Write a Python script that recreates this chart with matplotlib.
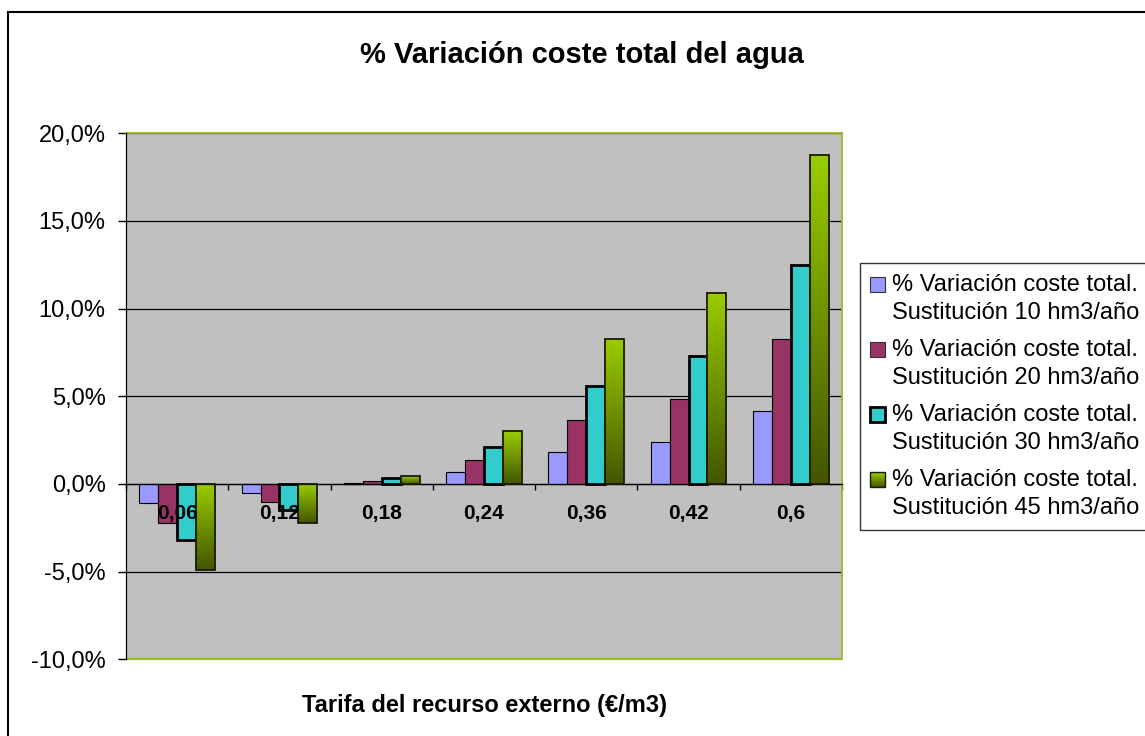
import numpy as np
import matplotlib
matplotlib.use("Agg")
import matplotlib.pyplot as plt
import matplotlib.patches as mpatches
from matplotlib.colors import LinearSegmentedColormap
from matplotlib.legend_handler import HandlerBase

plt.rcParams['font.family'] = ['Liberation Sans', 'DejaVu Sans']

# ---- data ----
categories = ["0,06", "0,12", "0,18", "0,24", "0,36", "0,42", "0,6"]
s10 = [-1.1, -0.5, 0.05, 0.67, 1.8, 2.42, 4.15]
s20 = [-2.2, -1.0, 0.18, 1.35, 3.66, 4.86, 8.26]
s30 = [-3.2, -1.5, 0.33, 2.1, 5.56, 7.31, 12.5]
s45 = [-4.9, -2.2, 0.45, 3.0, 8.24, 10.87, 18.76]
series_labels = [
    "% Variación coste total.\nSustitución 10 hm3/año",
    "% Variación coste total.\nSustitución 20 hm3/año",
    "% Variación coste total.\nSustitución 30 hm3/año",
    "% Variación coste total.\nSustitución 45 hm3/año",
]
yticks = [-10, -5, 0, 5, 10, 15, 20]
title = "% Variación coste total del agua"
xlabel = "Tarifa del recurso externo (€/m3)"

# ---- styles ----
face = ['#9999FF', '#993366', '#33CCCC', None]
edge_lw = [0.8, 0.8, 2.0, 1.3]
green_cmap = LinearSegmentedColormap.from_list('g', ['#435500', '#99CC00'])
olive = '#99BB22'

W, H = 1145, 736
fig = plt.figure(figsize=(W / 100, H / 100), dpi=100)
fig.patch.set_facecolor('white')
ax = fig.add_axes([126 / W, 1 - 659.3 / H, (842 - 126) / W, (659.3 - 133.3) / H])
ax.set_facecolor('#C0C0C0')

x = np.arange(len(categories))
bw = 0.185
data = [s10, s20, s30, s45]
containers = []
for i, vals in enumerate(data):
    off = (i - 1.5) * bw
    if face[i] is not None:
        bc = ax.bar(x + off, vals, bw, color=face[i], edgecolor='black',
                    linewidth=edge_lw[i], zorder=2)
    else:
        bc = ax.bar(x + off, vals, bw, facecolor='none', edgecolor='#1a1a00',
                    linewidth=edge_lw[i], zorder=3)
        grad = np.linspace(1, 0, 256).reshape(-1, 1)
        for p in bc.patches:
            x0, w = p.get_x(), p.get_width()
            y0, h = p.get_y(), p.get_height()
            top, bot = max(y0, y0 + h), min(y0, y0 + h)
            im = ax.imshow(grad, cmap=green_cmap, aspect='auto', origin='upper',
                           extent=[x0, x0 + w, bot, top], zorder=2.5,
                           interpolation='bilinear')
            im.set_clip_path(p)
    containers.append(bc)

ax.set_xlim(-0.5, len(categories) - 0.5)
ax.set_ylim(yticks[0], yticks[-1])
ax.set_axisbelow(True)

# y axis
ax.set_yticks(yticks)
ax.set_yticklabels([(f"{v:.1f}%").replace('.', ',') for v in yticks], fontsize=17)
ax.tick_params(axis='y', direction='out', length=5.7, width=1, pad=9, color='black')
ax.yaxis.grid(True, color='black', linewidth=0.9)

# x axis at zero
ax.spines['bottom'].set_position(('data', 0))
ax.spines['bottom'].set_color('black')
ax.spines['bottom'].set_linewidth(0.9)
ax.set_xticks(np.arange(-0.5, len(categories), 1.0))
ax.set_xticklabels([])
ax.tick_params(axis='x', direction='out', length=4.5, width=1, color='black')
for i, c in enumerate(categories):
    ax.annotate(c, xy=(x[i], 0), xytext=(0, -30), textcoords='offset pixels',
                ha='center', va='center', fontsize=15, fontweight='bold', zorder=6)

for s in ['top', 'right']:
    ax.spines[s].set_color(olive)
    ax.spines[s].set_linewidth(1.3)
ax.spines['left'].set_color('black')
ax.spines['left'].set_linewidth(0.9)
ax.spines['left'].set_zorder(4)
ax.add_patch(mpatches.Rectangle((0, 0), 1, 0, transform=ax.transAxes, fill=False,
                                edgecolor=olive, linewidth=1.6, clip_on=False, zorder=4))

ax.set_xlabel(xlabel, fontsize=17, fontweight='bold')
ax.xaxis.set_label_coords(0.5, -0.066)

fig.text(582 / W, 1 - 55 / H, title, ha='center', va='center', fontsize=21,
         fontweight='bold')

# figure frame (chart area border, clipped at right and bottom)
fig.patches.append(mpatches.Rectangle((8 / W, -0.2), 1.2, 1.2 - 12 / H,
                                      transform=fig.transFigure, fill=False,
                                      edgecolor='black', linewidth=1.5))


# ---- legend ----
LINESP = 1.34


class SquareHandler(HandlerBase):
    def __init__(self, fc, ec, lw, gradient=False):
        super().__init__()
        self.fc, self.ec, self.lw, self.gradient = fc, ec, lw, gradient

    def create_artists(self, legend, orig_handle, xdescent, ydescent, width,
                       height, fontsize, trans):
        s = 0.64 * fontsize
        x0 = -xdescent
        y0 = -ydescent + height / 2 - s / 2 + 0.62 * fontsize
        arts = []
        if self.gradient:
            n = 12
            cols = green_cmap(np.linspace(1, 0, n))
            for k in range(n):
                arts.append(mpatches.Rectangle((x0, y0 + s - (k + 1) * s / n), s, s / n,
                                               facecolor=cols[k], edgecolor='none',
                                               transform=trans))
            arts.append(mpatches.Rectangle((x0, y0), s, s, facecolor='none',
                                           edgecolor=self.ec, linewidth=self.lw,
                                           transform=trans))
        else:
            arts.append(mpatches.Rectangle((x0, y0), s, s, facecolor=self.fc,
                                           edgecolor=self.ec, linewidth=self.lw,
                                           transform=trans))
        return arts


handles = [mpatches.Patch(label=l) for l in series_labels]
hmap = {
    handles[0]: SquareHandler(face[0], '#333333', 0.8),
    handles[1]: SquareHandler(face[1], '#333333', 0.8),
    handles[2]: SquareHandler(face[2], 'black', 2.0),
    handles[3]: SquareHandler(None, '#1a1a00', 1.0, gradient=True),
}
leg = fig.legend(handles=handles, labels=series_labels, handler_map=hmap,
                 loc='upper left', bbox_to_anchor=(859.5 / W, 1 - 263.3 / H),
                 bbox_transform=fig.transFigure, fontsize=17, frameon=True,
                 fancybox=False, shadow=False, borderaxespad=0, borderpad=0.45,
                 handlelength=0.64, handleheight=0.64, handletextpad=0.3,
                 labelspacing=0.65)
leg.get_frame().set_edgecolor('black')
leg.get_frame().set_linewidth(1.0)
for t in leg.get_texts():
    t.set_linespacing(LINESP)

fig.savefig('out.png', dpi=100)
